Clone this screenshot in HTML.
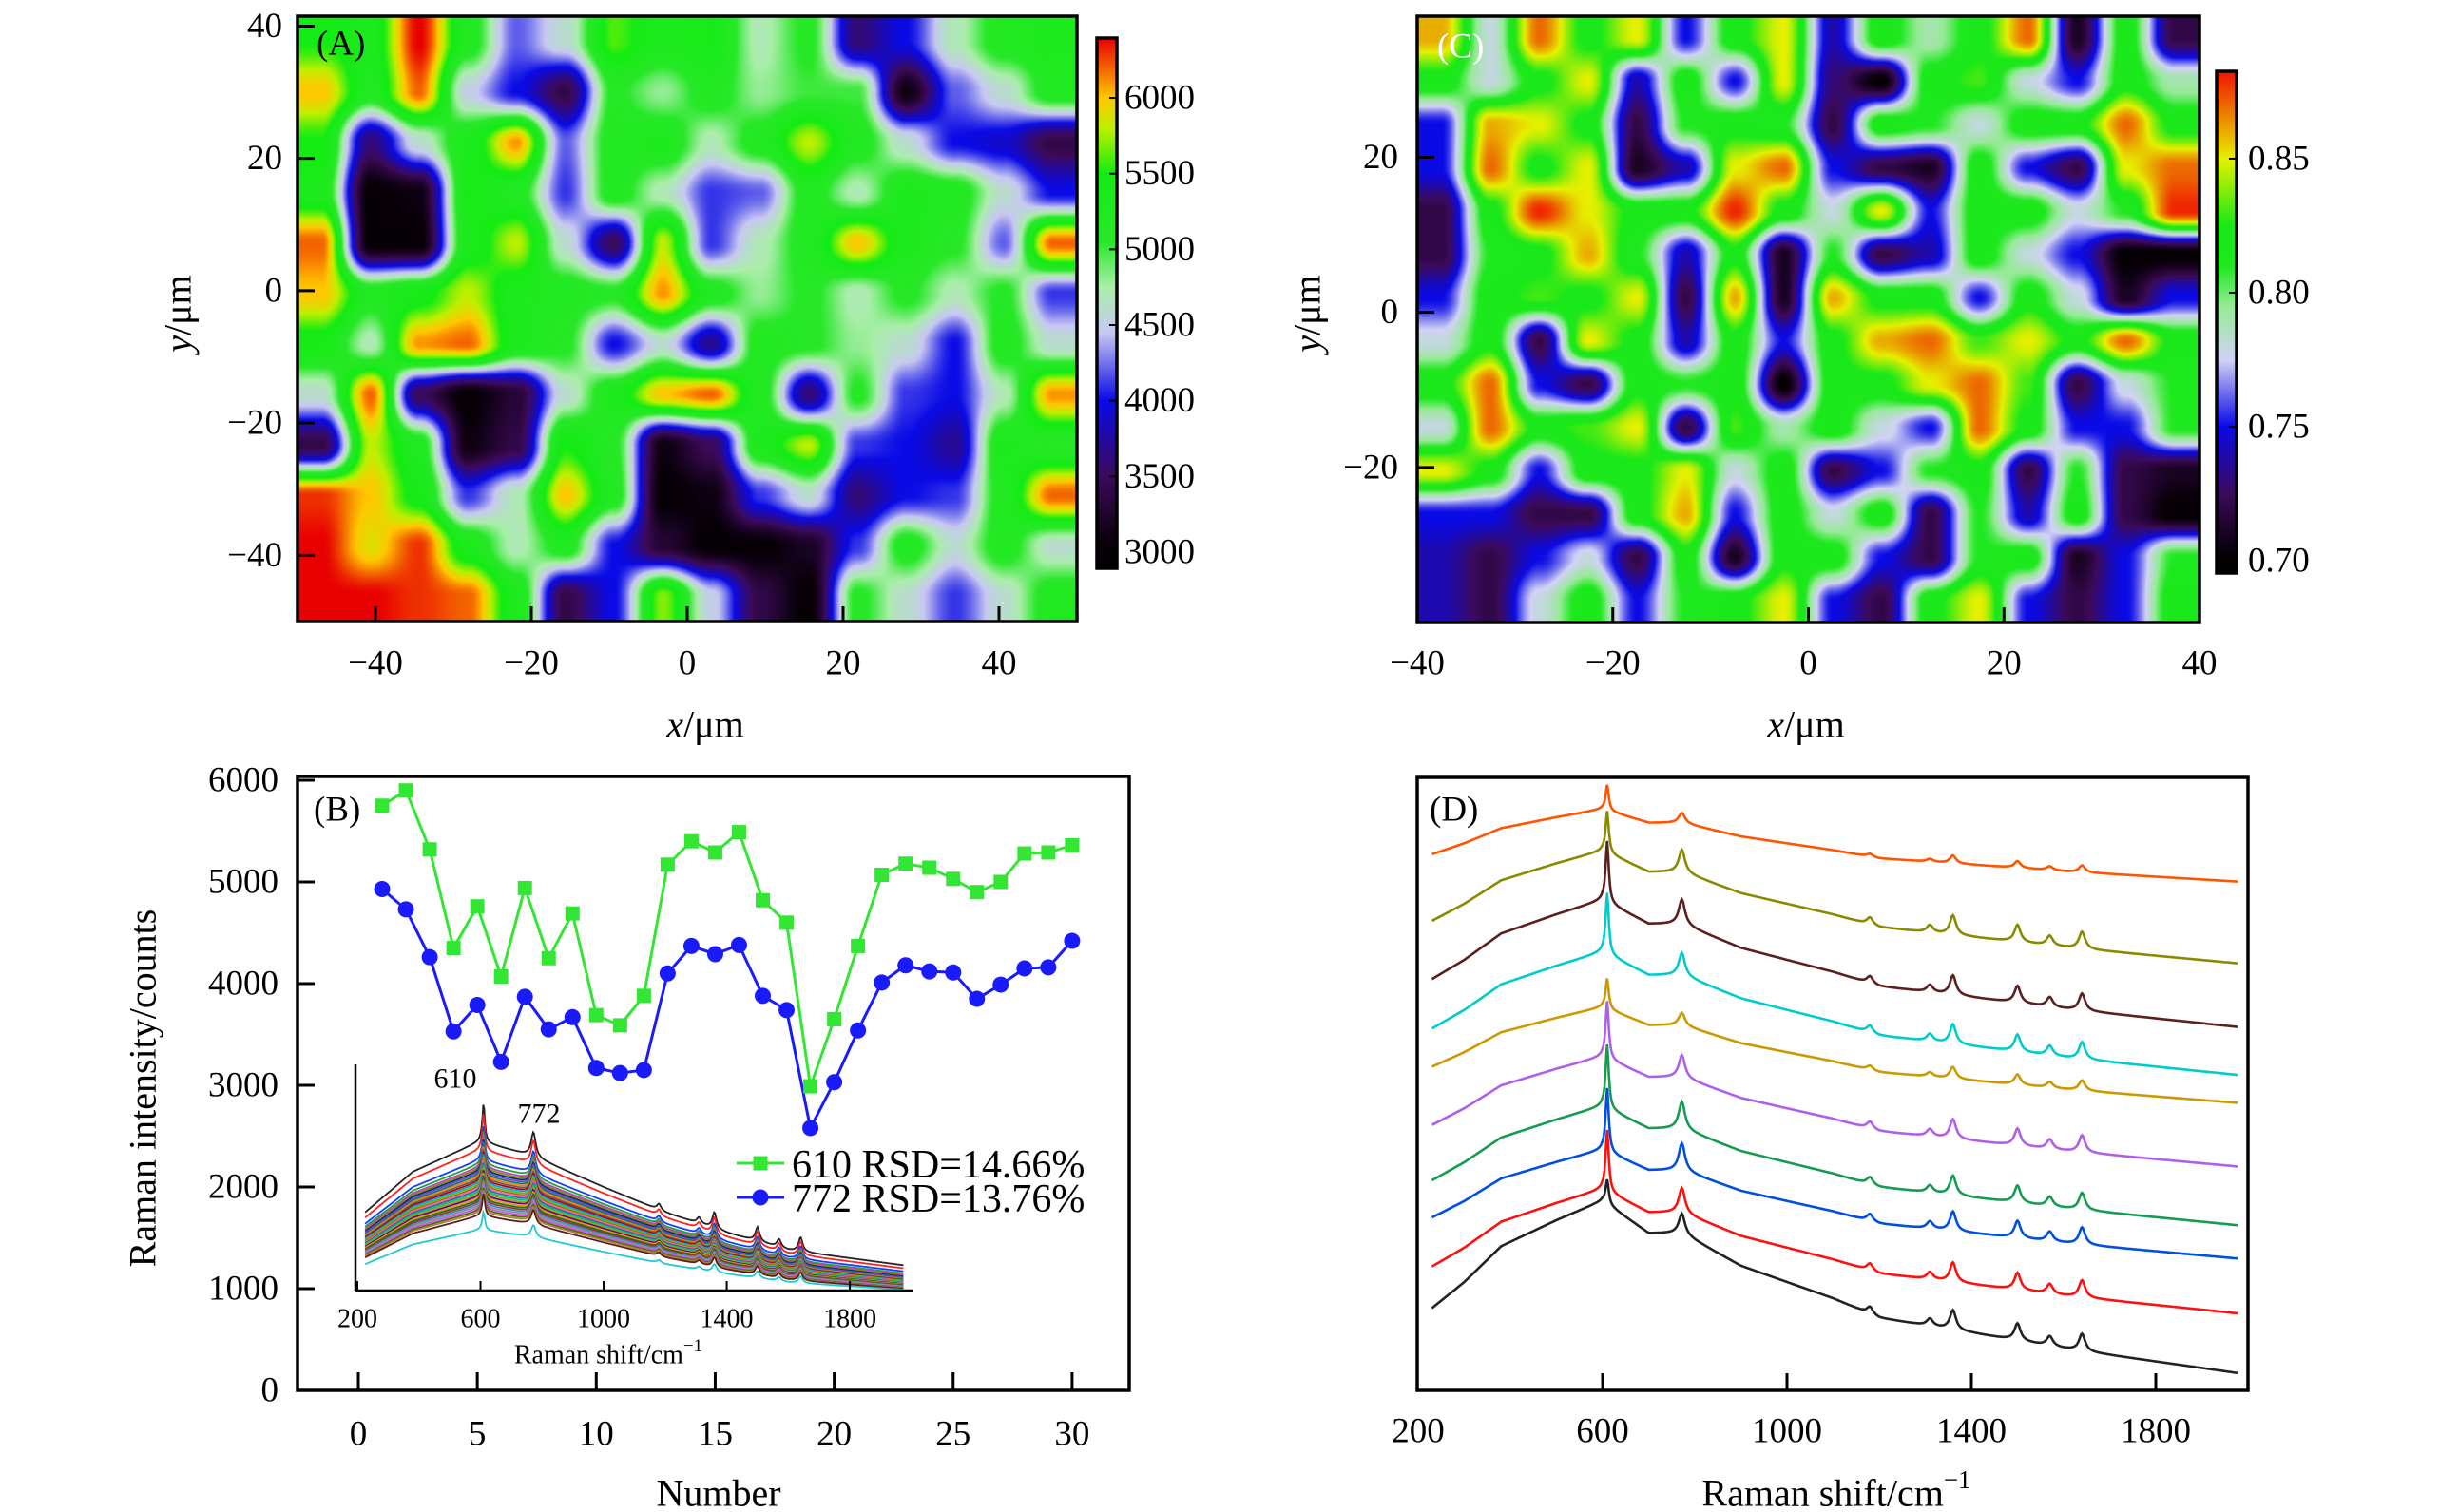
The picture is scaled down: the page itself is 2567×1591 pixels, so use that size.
<!DOCTYPE html>
<html><head><meta charset="utf-8">
<style>
html,body{margin:0;padding:0;background:#fff;}
#wrap{position:relative;width:2567px;height:1591px;overflow:hidden;background:#fff;}
canvas{position:absolute;}
svg{position:absolute;left:0;top:0;font-family:"Liberation Serif","DejaVu Serif","Times New Roman",serif;}
svg text{font-family:"Liberation Serif","DejaVu Serif","Times New Roman",serif;}
</style></head>
<body>
<div id="wrap">
<canvas id="hmA"></canvas>
<canvas id="cbA"></canvas>
<canvas id="hmC"></canvas>
<canvas id="cbC"></canvas>
<svg id="svg" width="2567" height="1591" xmlns="http://www.w3.org/2000/svg" font-family="Liberation Serif, DejaVu Serif, serif"></svg>
</div>
<script>
// ---------- data ----------
const gridA = [
[55,53,64,52,42,46,56,53,54,47,51,36,40,47,52,53],
[60,52,62,45,40,34,51,48,52,48,50,50,31,42,46,52],
[55,36,46,53,61,42,52,53,47,52,58,52,46,40,39,34],
[53,30,31,54,52,41,52,47,41,42,52,47,53,52,46,40],
[62,30,30,53,58,46,35,58,41,47,52,60,53,51,42,62],
[60,52,54,58,53,52,51,61,52,48,51,47,51,47,51,41],
[54,47,61,62,53,51,40,46,37,52,51,48,46,40,52,46],
[46,62,35,30,33,46,53,60,62,52,36,51,41,40,47,61],
[34,58,52,31,34,55,51,31,35,53,58,41,40,37,53,51],
[63,60,54,41,47,60,52,30,31,41,46,36,40,41,52,62],
[64,59,63,53,47,52,40,33,30,30,32,41,52,46,52,46],
[64,64,63,62,53,34,40,57,45,34,30,51,46,41,46,52]
];
const gridC = [
[86,78,87,82,85,75,82,85,74,82,79,82,87,71,82,72],
[82,78,82,85,74,82,75,85,73,70,82,83,78,75,82,79],
[75,86,85,82,72,81,82,81,72,82,81,78,82,82,87,82],
[75,87,82,85,71,74,85,87,75,72,71,82,75,72,85,87],
[72,82,88,85,82,82,88,82,78,85,75,82,82,78,81,88],
[72,81,82,86,81,74,82,71,81,72,74,82,78,75,70,70],
[75,82,83,82,85,72,86,71,86,82,82,75,82,78,71,75],
[78,82,72,85,82,74,82,75,82,86,87,83,85,82,87,82],
[82,87,75,72,82,81,82,70,82,82,85,87,83,72,78,81],
[78,87,82,83,85,72,83,79,82,78,75,87,82,75,75,81],
[85,82,75,82,82,85,78,82,72,75,81,82,72,81,72,71],
[75,75,72,72,82,86,75,82,78,82,72,81,74,82,72,70],
[74,72,75,78,72,82,71,82,82,75,72,81,82,71,75,81],
[74,72,78,82,75,81,82,85,75,72,82,85,75,72,75,82]
];
const numbers = [1,2,3,4,5,6,7,8,9,10,11,12,13,14,15,16,17,18,19,20,21,22,23,24,25,26,27,28,29,30];
const int610 = [5750,5900,5320,4350,4760,4070,4940,4250,4690,3690,3590,3880,5170,5400,5290,5490,4820,4600,2990,3650,4370,5070,5180,5140,5030,4900,5000,5280,5290,5360];
const int772 = [4930,4730,4260,3530,3790,3230,3870,3550,3670,3170,3120,3150,4100,4370,4290,4380,3880,3740,2580,3030,3540,4010,4180,4120,4110,3850,3990,4150,4160,4420];
const bYTicks = [0,1000,2000,3000,4000,5000,6000];
const bXTicks = [0,5,10,15,20,25,30];
const insetTop = [2450,2370,2270,2230,2200,2180,2160,2140,2120,2100,2080,2060,2040,2020,2000,1990,1970,1950,1930,1910,1890,1870,1850,1830,1810,1790,1770,1750,1720,1580];
const insetEnd = [1230,1200,1170,1150,1140,1130,1120,1110,1100,1095,1090,1085,1080,1075,1070,1065,1060,1055,1050,1045,1040,1035,1030,1025,1020,1015,1010,1005,1000,990];
const insetColors = ['#222','#ff2020','#1040ff','#20a040','#c040c0','#8a8a00','#003080','#8040c0','#008080','#ff8000','#606060','#c00000','#00a0ff','#60c000','#a06000','#ff60a0','#4060a0','#00c080','#a0a000','#6000a0','#e0a000','#207020','#a03030','#3090c0','#909090','#d050ff','#507000','#b08040','#5a1f1f','#20c8d0'];
const baseX = [230,300,380,500,600,700,772,900,1100,1200,1400,1600,1800,1980];
const baseY = [100,140,195,235,265,215,215,165,115,85,62,38,18,0];
const insetShapeX = [225,380,600,772,1000,1200,1400,1600,1975];
const insetShapeY = [1750,2150,2450,2300,2000,1750,1550,1380,1230];
const minorPos = [1180,1310,1360,1500,1570,1640];
const minorAmp = [15,15,40,35,20,35];
const dOffset = [1039,872,742,644,587,457,337,269,157,35];
const dScale = [0.56,0.87,0.98,0.95,0.74,0.85,0.92,0.84,0.96,1.33];
const dPeak610 = [52,85,125,125,62,117,130,130,125,50];
const dPeak772 = [20,45,50,45,25,45,55,55,50,40];
const dMinor = [0.4,1,1,1,0.6,1,1,1,1,1];
const dColors = ['#ff5500','#8a8a00','#5c1f1f','#00cccc','#cc9900','#b060e8','#149c50','#0050e0','#ff1010','#222222'];
const dXTicks = [200,600,1000,1400,1800];
const aXTicks = [-40,-20,0,20,40], aYTicks = [40,20,0,-20,-40];
const aCbTicks = [3000,3500,4000,4500,5000,5500,6000];
const cXTicks = [-40,-20,0,20,40], cYTicks = [20,0,-20];
const cCbTicks = [0.70,0.75,0.80,0.85];

// ---------- helpers ----------
const svg = document.getElementById('svg');
const NS = 'http://www.w3.org/2000/svg';
const FF = '"Liberation Serif", "DejaVu Serif", serif';
function mk(tag, attrs, parent){const e=document.createElementNS(NS,tag);for(const k in attrs)e.setAttribute(k,attrs[k]);if(tag==='text')e.setAttribute('font-family',FF);(parent||svg).appendChild(e);return e;}
function txt(s,x,y,size,anchor,parent){const t=mk('text',{x:x,y:y,'font-size':size,'text-anchor':anchor||'middle','dominant-baseline':'central'},parent);t.textContent=s;return t;}
function lin(xs,ys,x){if(x<=xs[0])return ys[0];for(let i=1;i<xs.length;i++){if(x<=xs[i]){const t=(x-xs[i-1])/(xs[i]-xs[i-1]);return ys[i-1]+t*(ys[i]-ys[i-1]);}}return ys[ys.length-1];}
function lor(x,c,w){const d=(x-c)/w;return 1/(1+d*d);}
function lerpC(stops,v){if(v<=stops[0][0])return stops[0][1];for(let i=1;i<stops.length;i++){if(v<=stops[i][0]){const t=(v-stops[i-1][0])/(stops[i][0]-stops[i-1][0]);const a=stops[i-1][1],b=stops[i][1];return [a[0]+t*(b[0]-a[0]),a[1]+t*(b[1]-a[1]),a[2]+t*(b[2]-a[2])];}}return stops[stops.length-1][1];}
const cmapA=[[2893,[0,0,0]],[3050,[8,0,8]],[3500,[60,10,90]],[4000,[10,10,230]],[4450,[200,200,242]],[4750,[170,238,170]],[5050,[40,232,40]],[5500,[20,235,20]],[5800,[190,240,0]],[6000,[255,200,0]],[6396,[232,0,0]]];
const cmapC=[[0.6954,[0,0,0]],[0.703,[8,0,8]],[0.725,[60,10,90]],[0.75,[10,10,230]],[0.775,[210,210,245]],[0.795,[150,235,150]],[0.81,[30,232,30]],[0.825,[25,232,25]],[0.85,[230,240,0]],[0.8826,[240,20,0]]];
function sm(t){return t*t*(3-2*t);}
function drawHeat(id,x0,y0,w,h,grid,mult,cmap){
  const c=document.getElementById(id);c.width=w;c.height=h;c.style.left=x0+'px';c.style.top=y0+'px';
  const ctx=c.getContext('2d');const img=ctx.createImageData(w,h);const R=grid.length,C=grid[0].length;
  for(let py=0;py<h;py++){let gy=(py+0.5)/h*R-0.5;gy=Math.max(0,Math.min(R-1.0001,gy));const j=Math.floor(gy),ty=sm(gy-j);
    for(let px=0;px<w;px++){let gx=(px+0.5)/w*C-0.5;gx=Math.max(0,Math.min(C-1.0001,gx));const i=Math.floor(gx),tx=sm(gx-i);
      const v=((grid[j][i]*(1-tx)+grid[j][i+1]*tx)*(1-ty)+(grid[j+1][i]*(1-tx)+grid[j+1][i+1]*tx)*ty)*mult;
      const col=lerpC(cmap,v);const k=(py*w+px)*4;img.data[k]=col[0];img.data[k+1]=col[1];img.data[k+2]=col[2];img.data[k+3]=255;}}
  ctx.putImageData(img,0,0);
}
function drawBar(id,x0,y0,w,h,vmax,vmin,cmap){
  const c=document.getElementById(id);c.width=w;c.height=h;c.style.left=x0+'px';c.style.top=y0+'px';
  const ctx=c.getContext('2d');for(let py=0;py<h;py++){const v=vmax-(py+0.5)/h*(vmax-vmin);const col=lerpC(cmap,v);ctx.fillStyle='rgb('+col.map(Math.round).join(',')+')';ctx.fillRect(0,py,w,1);}
}
function box(x0,y0,x1,y1,name){mk('rect',{x:x0,y:y0,width:x1-x0,height:y1-y0,fill:'none',stroke:'#000','stroke-width':3.5,});}

// ---------- Panel A ----------
const xA=v=>313+(v+50)/100*820, yA=v=>654-(v+50)/91.5*637;
drawHeat('hmA',313,17,820,637,gridA,100,cmapA);
box(313,17,1133,654,'plot-frame-a');
aXTicks.forEach(t=>{mk('line',{x1:xA(t),x2:xA(t),y1:654,y2:638,stroke:'#000','stroke-width':3});txt(String(t).replace('-','\u2212'),xA(t),698,37);});
aYTicks.forEach(t=>{mk('line',{x1:313,x2:331,y1:yA(t),y2:yA(t),stroke:'#000','stroke-width':3});txt(String(t).replace('-','\u2212'),297,yA(t),37,'end');});
const cbAy=v=>598-(v-2893)/(6396-2893)*558;
drawBar('cbA',1154,40,21,558,6396,2893,cmapA);
box(1154,40,1175,598,'colorbar-frame-a');
aCbTicks.forEach(t=>{mk('line',{x1:1175,x2:1167,y1:cbAy(t),y2:cbAy(t),stroke:'#000','stroke-width':2});txt(String(t),1183,cbAy(t),37,'start');});
let t1=txt('(A)',333,46,37,'start');
let xl=mk('text',{x:742,y:762,'font-size':40,'text-anchor':'middle','dominant-baseline':'central',});xl.innerHTML='<tspan font-style="italic">x</tspan>/μm';
let yl=mk('text',{x:187,y:330,'font-size':40,'text-anchor':'middle','dominant-baseline':'central',transform:'rotate(-90 187 330)',});yl.innerHTML='<tspan font-style="italic">y</tspan>/μm';

// ---------- Panel C ----------
const xC=v=>1491+(v+40)/80*823, yC=v=>655-(v+40)/78.2*638;
drawHeat('hmC',1491,17,823,638,gridC,0.01,cmapC);
box(1491,17,2314,655,'plot-frame-c');
cXTicks.forEach(t=>{mk('line',{x1:xC(t),x2:xC(t),y1:655,y2:639,stroke:'#000','stroke-width':3});txt(String(t).replace('-','\u2212'),xC(t),698,37);});
cYTicks.forEach(t=>{mk('line',{x1:1491,x2:1509,y1:yC(t),y2:yC(t),stroke:'#000','stroke-width':3});txt(String(t).replace('-','\u2212'),1471,yC(t),37,'end');});
const cbCy=v=>603-(v-0.6954)/(0.8826-0.6954)*528;
drawBar('cbC',2332,75,21,528,0.8826,0.6954,cmapC);
box(2332,75,2353,603,'colorbar-frame-c');
cCbTicks.forEach(t=>{mk('line',{x1:2353,x2:2345,y1:cbCy(t),y2:cbCy(t),stroke:'#000','stroke-width':2});txt(t.toFixed(2),2365,cbCy(t),37,'start');});
let tc=mk('text',{x:1512,y:49,'font-size':37,'dominant-baseline':'central',fill:'#fff',style:'fill:#fff',});tc.textContent='(C)';
let xl2=mk('text',{x:1900,y:762,'font-size':40,'text-anchor':'middle','dominant-baseline':'central',});xl2.innerHTML='<tspan font-style="italic">x</tspan>/μm';
let yl2=mk('text',{x:1375,y:330,'font-size':40,'text-anchor':'middle','dominant-baseline':'central',transform:'rotate(-90 1375 330)',});yl2.innerHTML='<tspan font-style="italic">y</tspan>/μm';

// ---------- Panel B ----------
const xB=v=>377+v*25.03, yB=v=>1463-v/6000*642;
const xI=v=>376+(v-200)*0.3238;
const gI=mk('g',{});
for(let k=0;k<insetTop.length;k++){
  const s=(insetTop[k]-insetEnd[k])/(2450-1230);let d='';
  for(let x=225;x<=1975;x+=3){
    let v=insetEnd[k]+s*(lin(insetShapeX,insetShapeY,x)-1230)+380*s*lor(x,610,5)+240*s*lor(x,772,9);
    for(let m=0;m<minorPos.length;m++)v+=minorAmp[m]*4*s*lor(x,minorPos[m],8);
    v=Math.max(v,985);
    d+=(d?'L':'M')+xI(x).toFixed(1)+' '+yB(v).toFixed(1);
  }
  const p=mk('path',{d:d,fill:'none',stroke:insetColors[k],'stroke-width':1.8},gI);
  
  
}
mk('line',{x1:374,x2:374,y1:1120,y2:1358,stroke:'#000','stroke-width':2.5});
mk('line',{x1:374,x2:960,y1:1358,y2:1358,stroke:'#000','stroke-width':2.5});
[200,600,1000,1400,1800].forEach(t=>{mk('line',{x1:xI(t),x2:xI(t),y1:1358,y2:1348,stroke:'#000','stroke-width':2});txt(String(t),xI(t),1388,28);});
let it=mk('text',{x:640,y:1426,'font-size':28,'text-anchor':'middle','dominant-baseline':'central',});it.innerHTML='Raman shift/cm<tspan dy="-10" font-size="19">−1</tspan>';
txt('610',479,1135,30);txt('772',567,1172,30);
mk('path',{d:numbers.map((n,i)=>(i?'L':'M')+xB(n)+' '+yB(int610[i])).join(''),fill:'none',stroke:'#33e633','stroke-width':3,});
mk('path',{d:numbers.map((n,i)=>(i?'L':'M')+xB(n)+' '+yB(int772[i])).join(''),fill:'none',stroke:'#1a1aff','stroke-width':3,});
numbers.forEach((n,i)=>{
  const r=mk('rect',{x:xB(n)-7.5,y:yB(int610[i])-7.5,width:15,height:15,fill:'#33e633'});
  
  
  const c=mk('circle',{cx:xB(n),cy:yB(int772[i]),r:8.5,fill:'#1a1aff'});
  
  
});
box(313,817,1188,1463,'plot-frame-b');
bXTicks.forEach(t=>{mk('line',{x1:xB(t),x2:xB(t),y1:1463,y2:1444,stroke:'#000','stroke-width':3});txt(String(t),xB(t),1509,37);});
bYTicks.forEach(t=>{mk('line',{x1:313,x2:331,y1:yB(t),y2:yB(t),stroke:'#000','stroke-width':3});txt(String(t),293,yB(t),37,'end');});
const lg=mk('g',{});
mk('line',{x1:775,x2:825,y1:1224,y2:1224,stroke:'#33e633','stroke-width':3},lg);mk('rect',{x:792.5,y:1216.5,width:15,height:15,fill:'#33e633'},lg);
txt('610 RSD=14.66%',833,1226,42,'start',lg);
mk('line',{x1:775,x2:825,y1:1260,y2:1260,stroke:'#1a1aff','stroke-width':3},lg);mk('circle',{cx:800,cy:1260,r:8.5,fill:'#1a1aff'},lg);
txt('772 RSD=13.76%',833,1262,42,'start',lg);
let tb=txt('(B)',330,852,37,'start');
let bxt=txt('Number',756,1571,40);
let byt=mk('text',{x:150,y:1145,'font-size':40,'text-anchor':'middle','dominant-baseline':'central',transform:'rotate(-90 150 1145)',});byt.textContent='Raman intensity/counts';

// ---------- Panel D ----------
const xD=v=>1492+(v-200)*0.485, yD=v=>1463-v*0.5152;
for(let k=0;k<dOffset.length;k++){
  let d='';
  for(let x=230;x<=1978;x+=2){
    let v=dOffset[k]+dScale[k]*lin(baseX,baseY,x)+dPeak610[k]*lor(x,610,4)+dPeak772[k]*lor(x,772,8);
    for(let m=0;m<minorPos.length;m++)v+=dMinor[k]*minorAmp[m]*lor(x,minorPos[m],8);
    d+=(d?'L':'M')+xD(x).toFixed(1)+' '+yD(v).toFixed(1);
  }
  const p=mk('path',{d:d,fill:'none',stroke:dColors[k],'stroke-width':2.6});
  
  
}
box(1491,818,2365,1463,'plot-frame-d');
dXTicks.forEach(t=>{if(t>200)mk('line',{x1:xD(t),x2:xD(t),y1:1463,y2:1445,stroke:'#000','stroke-width':3});txt(String(t),xD(t),1506,37);});
let td=txt('(D)',1504,852,37,'start');
let dxt=mk('text',{x:1932,y:1571,'font-size':40,'text-anchor':'middle','dominant-baseline':'central',});dxt.innerHTML='Raman shift/cm<tspan dy="-14" font-size="27">−1</tspan>';
</script>
</body></html>
